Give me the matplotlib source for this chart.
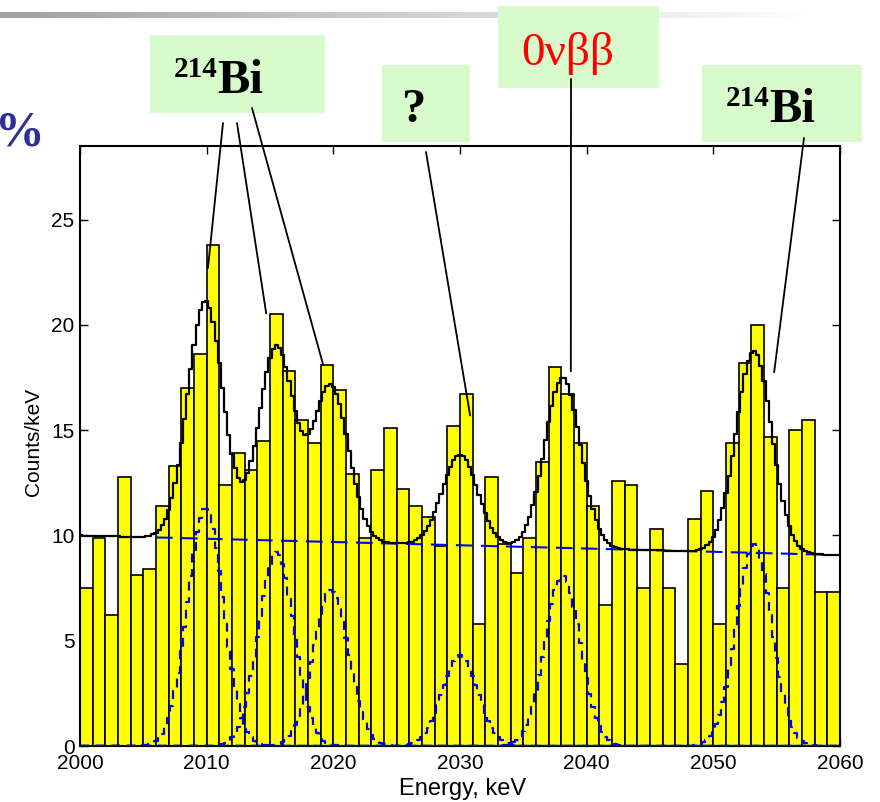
import numpy as np
import matplotlib.pyplot as plt
from matplotlib.patches import Rectangle, ConnectionPatch
from matplotlib.colors import LinearSegmentedColormap

# 1 keV bins, lower edges, and counts
e_lo = np.arange(2000, 2060)
counts = [7.5, 9.9, 6.2, 12.8, 8.1, 8.4, 11.4, 13.3, 17.0, 18.6,
          23.8, 12.4, 13.9, 13.1, 14.5, 20.5, 17.8, 15.5, 14.4, 18.1,
          16.9, 12.9, 9.9, 13.1, 15.1, 12.2, 11.4, 10.9, 9.5, 15.2,
          16.7, 5.8, 12.8, 9.6, 8.2, 9.9, 13.5, 18.0, 16.7, 14.4,
          11.4, 6.7, 12.6, 12.4, 7.5, 10.3, 7.5, 3.9, 10.8, 12.1,
          5.8, 14.4, 18.2, 20.0, 14.7, 7.5, 15.0, 15.5, 7.3, 7.3]

# fit parameters: linear background + gaussian lines
bg_start = 10.0
bg_slope = -0.0155
peak_pos = [2009.9, 2015.5, 2019.8, 2030.0, 2038.1, 2053.2]
peak_amp = [11.3, 9.2, 7.4, 4.3, 8.1, 9.6]
sigma = 1.4

W, H = 880, 802
fig = plt.figure(figsize=(W / 100, H / 100), dpi=100)

def fx(x):
    return x / W

def fy(y):
    return 1 - y / H

# grey slide bar at the top
band = fig.add_axes([0, fy(18), fx(815), 6 / H])
cmap = LinearSegmentedColormap.from_list('band', ['#a0a0a0', '#ffffff'])
band.imshow(np.linspace(0, 1, 256)[None, :], aspect='auto', cmap=cmap)
band.axis('off')

ax = fig.add_axes([fx(80), fy(746), fx(840) - fx(80), fy(146) - fy(746)])
ax.bar(e_lo, counts, width=1, align='edge', color='#ffff00',
       edgecolor='black', linewidth=1.2, zorder=2)

e = np.arange(2000, 2060.01, 0.25)
bg = bg_start + bg_slope * (e - 2000)
peaks = [a * np.exp(-0.5 * ((e - p) / sigma) ** 2) for p, a in zip(peak_pos, peak_amp)]
total = bg + sum(peaks)

for g in peaks:
    ax.plot(e, g, color='#0000ff', lw=1.6, ls=(0, (4, 3)), drawstyle='steps-mid', zorder=3)
m = (e >= 2006) & (e <= 2058.8)
ax.plot(e[m], bg[m], color='#0000ff', lw=1.5, ls=(0, (8, 4)), zorder=3)
ax.plot(e, total, color='black', lw=1.6, drawstyle='steps-mid', zorder=4)

ax.set_xlim(2000, 2060)
ax.set_ylim(0, 28.5)
ax.set_xticks(range(2000, 2061, 10))
ax.set_yticks(range(0, 26, 5))
ax.tick_params(direction='in', top=True, right=True, length=6, width=1,
               labelsize=15)
ax.tick_params(axis='x', pad=6)
ax.tick_params(axis='y', pad=4)
for lab in ax.get_xticklabels() + ax.get_yticklabels():
    lab.set_family('Liberation Sans')
for s in ax.spines.values():
    s.set_linewidth(1.5)

fig.text(fx(463), fy(789), 'Energy, keV', ha='center', va='center',
         fontsize=17, family='Liberation Sans')
fig.text(fx(33), fy(442), 'Counts/keV', ha='center', va='center',
         rotation=90, fontsize=15, family='Liberation Sans')

# cut-off slide text on the left
fig.text(fx(45), fy(146), '0%', ha='right', va='baseline', color='#2e3192',
         fontsize=36, fontweight='bold', family='Liberation Serif')

# label boxes
boxes = [(150, 35, 325, 113), (382, 65, 470, 142), (498, 6, 659, 88), (702, 65, 862, 142)]
for x0, y0, x1, y1 in boxes:
    fig.add_artist(Rectangle((fx(x0), fy(y1)), fx(x1) - fx(x0), fy(y0) - fy(y1),
                             transform=fig.transFigure, facecolor='#d8fbcc',
                             edgecolor='none', zorder=5))

serif = ['Liberation Serif', 'DejaVu Serif']
for xr, yb in [(217, 93), (769, 122)]:
    fig.text(fx(xr), fy(yb - 16), '214', ha='right', va='baseline', fontsize=21,
             fontweight='bold', family=serif, zorder=6)
    fig.text(fx(xr), fy(yb), 'Bi', ha='left', va='baseline', fontsize=35,
             fontweight='bold', family=serif, zorder=6)
fig.text(fx(413), fy(122), '?', ha='center', va='baseline', fontsize=35,
         fontweight='bold', family=serif, zorder=6)
fig.text(fx(568), fy(65), '0νββ', ha='center', va='baseline', fontsize=34,
         color='#ff0000', family=serif, zorder=6)

# pointer lines: box point (pixels) -> data point
pointers = [((223, 123), (2010.1, 22.7)),
            ((237, 123), (2014.7, 20.55)),
            ((252, 108), (2019.2, 18.1)),
            ((426, 152), (2030.8, 15.7)),
            ((571, 79), (2038.75, 17.8)),
            ((804, 138), (2054.8, 17.75))]
for (px, py), xy in pointers:
    con = ConnectionPatch(xyA=(fx(px), fy(py)), coordsA='figure fraction',
                          xyB=xy, coordsB='data', axesB=ax,
                          color='black', lw=1.3, zorder=7)
    fig.add_artist(con)

fig.savefig('out.png', dpi=100)
